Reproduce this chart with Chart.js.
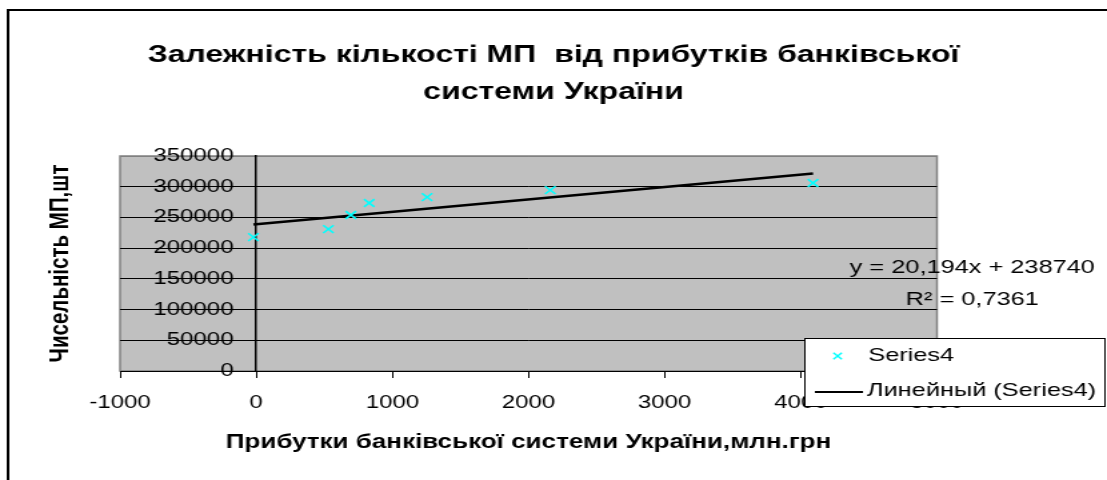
<!DOCTYPE html>
<html>
<head>
<meta charset="utf-8">
<script src="https://cdn.jsdelivr.net/npm/chart.js@4"></script>
<style>
html,body{margin:0;padding:0;background:#fff;overflow:hidden;width:1107px;height:480px}
#wrap{width:830px;height:480px;transform:scaleX(1.333735);transform-origin:0 0}
#c{display:block}
</style>
</head>
<body>
<div id="wrap"><canvas id="c" width="830" height="480" style="width:830px;height:480px"></canvas></div>
<script>
// ---- data ----
const titleLines = ['Залежність кількості МП  від прибутків банківської', 'системи України'];
const xAxisTitle = 'Прибутки банківської системи України,млн.грн';
const yAxisTitle = 'Чисельність МП,шт';
const seriesName = 'Series4';
const trendName = 'Линейный (Series4)';
const profits = [-20, 530, 695, 830, 1255, 2160, 4090];
const smeCount = [218000, 231000, 254000, 273500, 283000, 294500, 306000];
const xTicks = [-1000, 0, 1000, 2000, 3000, 4000, 5000];
const yTicks = [0, 50000, 100000, 150000, 200000, 250000, 300000, 350000];
const trendSlope = 20.194;
const trendIntercept = 238740;
const trendR2 = 0.7361;

// ---- derived ----
const FONT = "'Liberation Sans', Arial, sans-serif";
const points = profits.map((x, i) => ({x: x, y: smeCount[i]}));
const xMin = Math.min(...profits), xMax = Math.max(...profits);
const trendPts = [xMin, xMax].map(x => ({x: x, y: trendSlope * x + trendIntercept}));
const eqText = 'y = ' + trendSlope.toFixed(3).replace('.', ',') + 'x + ' + trendIntercept;
const r2Text = 'R\u00B2 = ' + trendR2.toFixed(4).replace('.', ',');

const decorPlugin = {
  id: 'decor',
  beforeDraw(chart) {
    const ctx = chart.ctx, a = chart.chartArea;
    ctx.save();
    ctx.strokeStyle = '#000';
    ctx.lineWidth = 2;
    ctx.beginPath();
    ctx.moveTo(6, 480); ctx.lineTo(6, 10); ctx.lineTo(830, 10);
    ctx.stroke();
    ctx.fillStyle = '#c0c0c0';
    ctx.fillRect(a.left, a.top, a.right - a.left, a.bottom - a.top);
    ctx.strokeStyle = '#808080';
    ctx.lineWidth = 1.5;
    ctx.strokeRect(a.left, a.top, a.right - a.left, a.bottom - a.top);
    ctx.restore();
  },
  afterDraw(chart) {
    const ctx = chart.ctx;
    const ds = chart.data.datasets;
    ctx.save();
    ctx.fillStyle = '#000';
    ctx.font = '19px ' + FONT;
    ctx.textAlign = 'center';
    ctx.textBaseline = 'middle';
    ctx.fillText(eqText, 729, 268);
    ctx.fillText(r2Text, 729, 300);
    const lx = 603.5, ly = 338.5, lw = 225, lh = 68;
    ctx.fillStyle = '#fff';
    ctx.fillRect(lx, ly, lw, lh);
    ctx.strokeStyle = '#000';
    ctx.lineWidth = 1;
    ctx.strokeRect(lx, ly, lw, lh);
    ctx.strokeStyle = ds[0].borderColor;
    ctx.fillStyle = ds[0].borderColor;
    ctx.lineWidth = 1.4;
    Chart.helpers.drawPoint(ctx, {pointStyle: 'crossRot', radius: 4.5, borderWidth: 1.4, rotation: 0}, 628, 356);
    ctx.fillStyle = '#000';
    ctx.textAlign = 'left';
    ctx.fillText(ds[0].label, 651, 356);
    ctx.strokeStyle = '#000';
    ctx.lineWidth = 2;
    ctx.beginPath();
    ctx.moveTo(611, 392); ctx.lineTo(647, 392);
    ctx.stroke();
    ctx.fillText(ds[1].label, 650, 391);
    ctx.restore();
  }
};

const blankAxis = (pos, w) => ({
  axis: 'y', type: 'linear', position: pos,
  afterFit: s => { s.width = w; },
  ticks: {display: false}, grid: {display: false}, border: {display: false}
});

new Chart(document.getElementById('c'), {
  type: 'scatter',
  data: {
    datasets: [
      {
        label: seriesName,
        data: points,
        xAxisID: 'x', yAxisID: 'y',
        pointStyle: 'crossRot',
        pointRadius: 5.5,
        pointBorderWidth: 1.6,
        borderColor: '#00ffff',
        backgroundColor: '#00ffff',
        showLine: false,
        order: 1
      },
      {
        label: trendName,
        type: 'line',
        data: trendPts,
        xAxisID: 'x', yAxisID: 'y',
        borderColor: '#000',
        backgroundColor: '#000',
        borderWidth: 2.5,
        pointRadius: 0,
        fill: false,
        tension: 0,
        order: 2
      }
    ]
  },
  options: {
    responsive: false,
    devicePixelRatio: 1,
    animation: false,
    events: [],
    layout: {padding: {left: 0, right: 0, top: 0, bottom: 10}},
    plugins: {
      legend: {display: false},
      tooltip: {enabled: false},
      title: {
        display: true,
        text: titleLines,
        color: '#000',
        font: {family: FONT, size: 24, weight: 'bold', lineHeight: '37px'},
        padding: {top: 36.5, bottom: 45.5}
      }
    },
    scales: {
      x: {
        type: 'linear',
        position: 'bottom',
        min: -1000, max: 5000,
        afterBuildTicks: s => { s.ticks = xTicks.map(v => ({value: v})); },
        afterFit: s => { s.height = 99; },
        ticks: {color: '#000', font: {family: FONT, size: 18}, padding: 14, maxRotation: 0, autoSkip: false, callback: v => String(v)},
        grid: {drawOnChartArea: false, drawTicks: true, tickLength: 7, color: '#000', lineWidth: 1},
        border: {display: true, color: '#000', width: 1},
        title: {display: true, text: xAxisTitle, color: '#000', font: {family: FONT, size: 19.5, weight: 'bold', lineHeight: 1.2}, padding: {top: 0, bottom: 16}}
      },
      y: {
        type: 'linear',
        position: {x: 0},
        min: 0, max: 350000,
        afterBuildTicks: s => { s.ticks = yTicks.map(v => ({value: v})); },
        ticks: {display: false},
        grid: {
          drawOnChartArea: true, drawTicks: true, tickLength: 6, lineWidth: 1,
          color: c => (c.tick && c.tick.value === 350000) ? '#808080' : '#000'
        },
        border: {display: true, color: '#000', width: 1.5}
      },
      yLabels: {
        axis: 'y',
        type: 'linear',
        position: {x: -166},
        min: 0, max: 350000,
        afterBuildTicks: s => { s.ticks = yTicks.map(v => ({value: v})); },
        ticks: {color: '#000', font: {family: FONT, size: 18}, autoSkip: false, callback: v => String(v)},
        grid: {display: false},
        border: {display: false}
      },
      yTitle: Object.assign(blankAxis('left', 90), {
        title: {display: true, text: yAxisTitle, color: '#000', font: {family: FONT, size: 20.5, weight: 'bold', lineHeight: 1.2}, padding: {top: 33, bottom: 0}}
      }),
      yRight: blankAxis('right', 127.5)
    }
  },
  plugins: [decorPlugin]
});
</script>
</body>
</html>
